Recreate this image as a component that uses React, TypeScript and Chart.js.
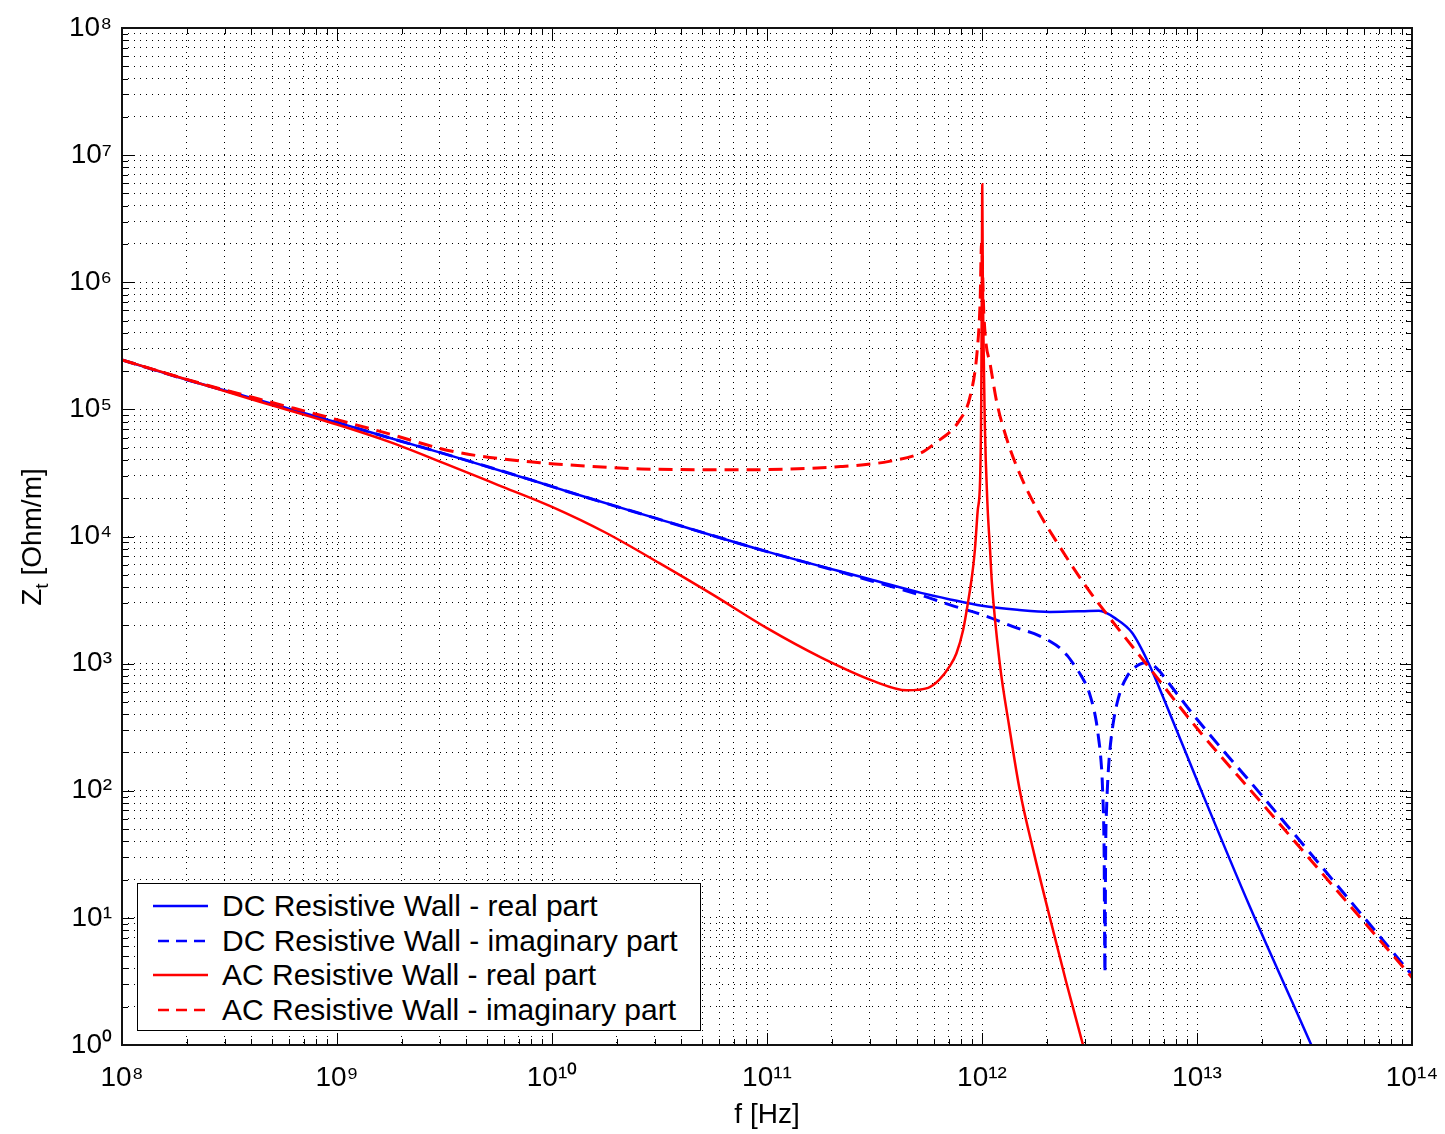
import React, { useEffect, useRef } from 'react';
import { Chart, registerables } from 'chart.js';

Chart.register(...registerables);

const FONT = '"Liberation Sans", Arial, Helvetica, sans-serif';

// ---- data (frequency [Hz], impedance [Ohm/m]) ----
const dcRealFreq = [1e8, 2e8, 4e8, 1e9, 1.7e9, 3.5e9, 8.8e9, 1.2e10, 3e10, 1e11, 3.1e11, 5.2e11, 7.1e11, 1e12, 1.46e12, 2.07e12, 2.8e12, 3.5e12, 4.2e12, 5.0e12, 6.0e12, 7.2e12, 1.03e13, 1.77e13, 2.8e13, 5e13];
const dcRealZ = [2.45e5, 1.71e5, 1.23e5, 7.9e4, 6.06e4, 4.25e4, 2.65e4, 2.24e4, 1.4e4, 7.6e3, 4.55e3, 3.6e3, 3.2e3, 2.85e3, 2.65e3, 2.55e3, 2.58e3, 2.6e3, 2.25e3, 1.74e3, 980, 473, 107, 12, 2.1, 0.23];

const dcImagFreq = [1e8, 2e8, 4e8, 1e9, 1.7e9, 3.5e9, 8.8e9, 1.2e10, 3e10, 1e11, 2e11, 3.1e11, 5.2e11, 7.1e11, 1.02e12, 1.46e12, 1.75e12, 2.07e12, 2.3e12, 2.5e12, 2.7e12, 2.86e12, 3.0e12, 3.1e12, 3.2e12, 3.3e12, 3.4e12, 3.5e12, 3.56e12, 3.64e12, 3.7e12, 3.73e12, 3.76e12, 3.8e12, 3.85e12, 3.92e12, 4.0e12, 4.12e12, 4.25e12, 4.45e12, 4.72e12, 5.0e12, 5.4e12, 5.8e12, 6.2e12, 6.7e12, 7.2e12, 8e12, 1e13, 2e13, 5e13, 1e14];
const dcImagZ = [2.45e5, 1.71e5, 1.23e5, 7.9e4, 6.06e4, 4.25e4, 2.65e4, 2.24e4, 1.4e4, 7.6e3, 5.5e3, 4.45e3, 3.45e3, 2.9e3, 2.4e3, 1.9e3, 1.72e3, 1.5e3, 1.33e3, 1.15e3, 960, 830, 720, 640, 545, 450, 350, 245, 190, 100, 30, 3.7, 35, 75, 125, 195, 270, 380, 490, 640, 790, 895, 985, 1.02e3, 985, 870, 745, 590, 365, 92, 14.5, 3.55];

const acRealFreq = [1e8, 2e8, 4e8, 1e9, 1.78e9, 3.16e9, 5.62e9, 1e10, 1.78e10, 3.16e10, 5.62e10, 1e11, 1.78e11, 3.16e11, 4.47e11, 5.62e11, 6.3e11, 7.08e11, 7.6e11, 8.17e11, 8.6e11, 9.0e11, 9.27e11, 9.55e11, 9.8e11, 9.92e11, 9.98e11, 1.003e12, 1.008e12, 1.015e12, 1.03e12, 1.06e12, 1.09e12, 1.11e12, 1.21e12, 1.34e12, 1.5e12, 1.75e12, 2.07e12, 2.46e12, 2.95e12, 3.5e12];
const acRealZ = [2.45e5, 1.72e5, 1.2e5, 7.6e4, 5.5e4, 3.76e4, 2.54e4, 1.71e4, 1.07e4, 6.17e3, 3.47e3, 1.9e3, 1.12e3, 725, 617, 645, 741, 955, 1.2e3, 1.84e3, 3.0e3, 5.0e3, 7.9e3, 1.6e4, 2.8e4, 1.2e5, 8e5, 5.9e6, 1.2e6, 4e5, 8e4, 1.8e4, 7.9e3, 4.5e3, 1.0e3, 316, 100, 31.6, 10, 3.16, 1.0, 0.33];

const acImagFreq = [1e8, 2e8, 4e8, 1e9, 1.7e9, 3.5e9, 8.8e9, 1.2e10, 2.6e10, 7.5e10, 2.2e11, 3.7e11, 5.2e11, 5.9e11, 7.9e11, 8.8e11, 9.5e11, 9.8e11, 9.95e11, 1.003e12, 1.015e12, 1.04e12, 1.09e12, 1.17e12, 1.31e12, 1.5e12, 1.8e12, 2.3e12, 3e12, 3.94e12, 5.85e12, 1e13, 2e13, 5e13, 1e14];
const acImagZ = [2.45e5, 1.72e5, 1.25e5, 8.3e4, 6.5e4, 4.65e4, 3.8e4, 3.66e4, 3.4e4, 3.35e4, 3.55e4, 3.9e4, 4.55e4, 5.25e4, 8.3e4, 1.26e5, 2.9e5, 7e5, 2.0e6, 1.5e6, 7e5, 3.5e5, 2.3e5, 1.15e5, 5.7e4, 3.1e4, 1.65e4, 8.3e3, 4.2e3, 2.27e3, 980, 310, 80, 13.2, 3.4];

const seriesLabels = [
  'DC Resistive Wall - real part',
  'DC Resistive Wall - imaginary part',
  'AC Resistive Wall - real part',
  'AC Resistive Wall - imaginary part',
];
const seriesColors = ['#0000ff', '#0000ff', '#ff0000', '#ff0000'];
const seriesDashed = [false, true, false, true];

const xTickLabels = ['10⁸', '10⁹', '10¹⁰', '10¹¹', '10¹²', '10¹³', '10¹⁴'];
const yTickLabels = ['10⁰', '10¹', '10²', '10³', '10⁴', '10⁵', '10⁶', '10⁷', '10⁸'];
const xMinExp = 8;
const xMaxExp = 14;
const yMinExp = 0;
const yMaxExp = 8;

function logTicks(minExp: number, maxExp: number): number[] {
  const t: number[] = [];
  for (let e = minExp; e < maxExp; e++) {
    for (let m = 1; m <= 9; m++) t.push(m * Math.pow(10, e));
  }
  t.push(Math.pow(10, maxExp));
  return t;
}
const xTicks = logTicks(xMinExp, xMaxExp);
const yTicks = logTicks(yMinExp, yMaxExp);

function isDecade(v: number) {
  const e = Math.log10(v);
  return Math.abs(e - Math.round(e)) < 1e-9;
}

const toXY = (f: number[], z: number[]) => f.map((x, i) => ({ x, y: z[i] }));

const framePlugin = {
  id: 'frameTicks',
  afterDraw(chart: any) {
    const { ctx, chartArea } = chart;
    const { left, right, top, bottom } = chartArea;
    const xs = chart.scales.x;
    const ys = chart.scales.y;
    ctx.save();
    ctx.strokeStyle = '#000';
    ctx.lineWidth = 1;
    ctx.setLineDash([]);
    ctx.beginPath();
    xTicks.forEach((v) => {
      const px = Math.round(xs.getPixelForValue(v)) + 0.5;
      const len = isDecade(v) ? 12 : 6;
      ctx.moveTo(px, bottom);
      ctx.lineTo(px, bottom - len);
      ctx.moveTo(px, top);
      ctx.lineTo(px, top + len);
    });
    yTicks.forEach((v) => {
      const py = Math.round(ys.getPixelForValue(v)) + 0.5;
      const len = isDecade(v) ? 12 : 6;
      ctx.moveTo(left, py);
      ctx.lineTo(left + len, py);
      ctx.moveTo(right, py);
      ctx.lineTo(right - len, py);
    });
    ctx.stroke();
    ctx.lineWidth = 2;
    ctx.strokeStyle = '#111';
    ctx.strokeRect(left, top, right - left, bottom - top);
    ctx.restore();
  },
};

export default function App() {
  const ref = useRef<HTMLCanvasElement>(null);

  useEffect(() => {
    if (!ref.current) return;
    Chart.defaults.font.family = FONT;
    const datasetsData = [
      toXY(dcRealFreq, dcRealZ),
      toXY(dcImagFreq, dcImagZ),
      toXY(acRealFreq, acRealZ),
      toXY(acImagFreq, acImagZ),
    ];
    const chart = new Chart(ref.current, {
      type: 'line',
      data: {
        datasets: datasetsData.map((d, i) => ({
          label: seriesLabels[i],
          data: d,
          borderColor: seriesColors[i],
          backgroundColor: seriesColors[i],
          borderWidth: seriesDashed[i] ? 3 : 2.5,
          borderDash: seriesDashed[i] ? [14, 8] : [],
          pointRadius: 0,
          fill: false,
          cubicInterpolationMode: 'monotone',
          clip: 0,
          order: 4 - i,
        })),
      },
      options: {
        responsive: false,
        animation: false,
        events: [],
        layout: { padding: { top: 28, right: 33, left: 0, bottom: 0 } },
        plugins: {
          legend: { display: false },
          tooltip: { enabled: false },
        },
        scales: {
          x: {
            type: 'logarithmic',
            min: Math.pow(10, xMinExp),
            max: Math.pow(10, xMaxExp),
            afterBuildTicks: (s: any) => {
              s.ticks = xTicks.map((value) => ({ value }));
            },
            afterFit: (s: any) => {
              s.height = 89;
              s.paddingLeft = 0;
              s.paddingRight = 0;
            },
            ticks: {
              autoSkip: false,
              maxRotation: 0,
              minRotation: 0,
              padding: 16,
              color: '#000',
              font: { family: FONT, size: 28 },
              callback: (v: any) => {
                const n = Number(v);
                return isDecade(n) ? xTickLabels[Math.round(Math.log10(n)) - xMinExp] : '';
              },
            },
            grid: { color: '#000', lineWidth: 1, drawTicks: false },
            border: { display: false, dash: [1, 5] },
            title: {
              display: true,
              text: 'f [Hz]',
              color: '#000',
              font: { family: FONT, size: 28 },
              padding: { top: 0, bottom: 2 },
            },
          },
          y: {
            type: 'logarithmic',
            min: Math.pow(10, yMinExp),
            max: Math.pow(10, yMaxExp),
            afterBuildTicks: (s: any) => {
              s.ticks = yTicks.map((value) => ({ value }));
            },
            afterFit: (s: any) => {
              s.width = 122;
              s.paddingTop = 0;
              s.paddingBottom = 0;
            },
            ticks: {
              autoSkip: false,
              padding: 10,
              color: '#000',
              font: { family: FONT, size: 28 },
              callback: (v: any) => {
                const n = Number(v);
                return isDecade(n) ? yTickLabels[Math.round(Math.log10(n)) - yMinExp] : '';
              },
            },
            grid: { color: '#000', lineWidth: 1, drawTicks: false },
            border: { display: false, dash: [1, 5] },
          },
        },
      },
      plugins: [framePlugin],
    } as any);
    return () => chart.destroy();
  }, []);

  const rowCenters = [22, 57, 91, 126];

  return (
    <div style={{ position: 'absolute', left: 0, top: 0, width: 1445, height: 1134, background: '#fff', fontFamily: FONT }}>
      <canvas ref={ref} width={1445} height={1134} style={{ position: 'absolute', left: 0, top: 0, width: 1445, height: 1134 }} />
      <div
        style={{
          position: 'absolute',
          left: 32 - 150,
          top: 537 - 18,
          width: 300,
          height: 36,
          lineHeight: '36px',
          textAlign: 'center',
          fontSize: 28,
          color: '#000',
          transform: 'rotate(-90deg)',
          whiteSpace: 'nowrap',
        }}
      >
        Z<sub style={{ fontSize: 19, verticalAlign: '-7px', lineHeight: 0 }}>t</sub> [Ohm/m]
      </div>
      <div
        style={{
          position: 'absolute',
          left: 137,
          top: 883,
          width: 564,
          height: 148,
          boxSizing: 'border-box',
          border: '1.5px solid #000',
          background: '#fff',
        }}
      >
        {seriesLabels.map((lab, i) => (
          <div key={lab} style={{ position: 'absolute', left: 0, top: rowCenters[i] - 18, height: 36, width: '100%' }}>
            <svg width={60} height={36} style={{ position: 'absolute', left: 14, top: 0 }}>
              <line
                x1={seriesDashed[i] ? 6 : 1}
                y1={18}
                x2={56}
                y2={18}
                stroke={seriesColors[i]}
                strokeWidth={2.5}
                strokeDasharray={seriesDashed[i] ? '11 7' : undefined}
              />
            </svg>
            <span
              style={{
                position: 'absolute',
                left: 84,
                top: 0,
                lineHeight: '36px',
                fontSize: 30,
                color: '#000',
                whiteSpace: 'nowrap',
              }}
            >
              {lab}
            </span>
          </div>
        ))}
      </div>
    </div>
  );
}
